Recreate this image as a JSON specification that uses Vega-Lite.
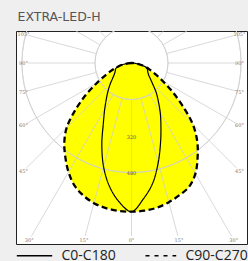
{
  "$schema": "https://vega.github.io/schema/vega-lite/v6.json",
  "width": 231,
  "height": 213,
  "autosize": {"type": "none"},
  "padding": {"left": 16, "top": 31, "right": 1, "bottom": 17},
  "background": "#efefef",
  "view": {"stroke": "#222222", "strokeWidth": 1, "fill": "white"},
  "title": {"text": "EXTRA-LED-H", "anchor": "start", "frame": "group", "font": "DejaVu Sans", "fontSize": 12.5, "fontWeight": "normal", "color": "#555555", "offset": 11, "baseline": "alphabetic", "dx": 1.5, "dy": 13.5},
  "datasets": {
    "curves": [
      {"series": "C0-C180", "a": -90, "I": 0}, {"series": "C0-C180", "a": -85, "I": 15}, {"series": "C0-C180", "a": -80, "I": 38}, {"series": "C0-C180", "a": -75, "I": 62}, {"series": "C0-C180", "a": -70, "I": 74}, {"series": "C0-C180", "a": -65, "I": 78}, {"series": "C0-C180", "a": -60, "I": 84}, {"series": "C0-C180", "a": -55, "I": 94}, {"series": "C0-C180", "a": -50, "I": 110}, {"series": "C0-C180", "a": -45, "I": 133}, {"series": "C0-C180", "a": -40, "I": 160}, {"series": "C0-C180", "a": -35, "I": 192}, {"series": "C0-C180", "a": -30, "I": 235}, {"series": "C0-C180", "a": -25, "I": 292}, {"series": "C0-C180", "a": -20, "I": 380}, {"series": "C0-C180", "a": -15, "I": 472}, {"series": "C0-C180", "a": -10, "I": 551}, {"series": "C0-C180", "a": -5, "I": 612}, {"series": "C0-C180", "a": 0, "I": 652}, {"series": "C0-C180", "a": 5, "I": 598}, {"series": "C0-C180", "a": 10, "I": 535}, {"series": "C0-C180", "a": 15, "I": 452}, {"series": "C0-C180", "a": 20, "I": 372}, {"series": "C0-C180", "a": 25, "I": 305}, {"series": "C0-C180", "a": 30, "I": 252}, {"series": "C0-C180", "a": 35, "I": 205}, {"series": "C0-C180", "a": 40, "I": 168}, {"series": "C0-C180", "a": 45, "I": 132}, {"series": "C0-C180", "a": 50, "I": 108}, {"series": "C0-C180", "a": 55, "I": 92}, {"series": "C0-C180", "a": 60, "I": 83}, {"series": "C0-C180", "a": 65, "I": 78}, {"series": "C0-C180", "a": 70, "I": 73}, {"series": "C0-C180", "a": 75, "I": 60}, {"series": "C0-C180", "a": 80, "I": 37}, {"series": "C0-C180", "a": 85, "I": 15}, {"series": "C0-C180", "a": 90, "I": 0},
      {"series": "C90-C270", "a": -90, "I": 0}, {"series": "C90-C270", "a": -85, "I": 15}, {"series": "C90-C270", "a": -80, "I": 38}, {"series": "C90-C270", "a": -75, "I": 62}, {"series": "C90-C270", "a": -70, "I": 90}, {"series": "C90-C270", "a": -65, "I": 125}, {"series": "C90-C270", "a": -60, "I": 175}, {"series": "C90-C270", "a": -55, "I": 245}, {"series": "C90-C270", "a": -50, "I": 322}, {"series": "C90-C270", "a": -45, "I": 402}, {"series": "C90-C270", "a": -40, "I": 458}, {"series": "C90-C270", "a": -35, "I": 505}, {"series": "C90-C270", "a": -30, "I": 552}, {"series": "C90-C270", "a": -25, "I": 592}, {"series": "C90-C270", "a": -20, "I": 618}, {"series": "C90-C270", "a": -15, "I": 636}, {"series": "C90-C270", "a": -10, "I": 646}, {"series": "C90-C270", "a": -5, "I": 651}, {"series": "C90-C270", "a": 0, "I": 652}, {"series": "C90-C270", "a": 5, "I": 650}, {"series": "C90-C270", "a": 10, "I": 644}, {"series": "C90-C270", "a": 15, "I": 632}, {"series": "C90-C270", "a": 20, "I": 616}, {"series": "C90-C270", "a": 25, "I": 598}, {"series": "C90-C270", "a": 30, "I": 560}, {"series": "C90-C270", "a": 35, "I": 505}, {"series": "C90-C270", "a": 40, "I": 448}, {"series": "C90-C270", "a": 45, "I": 380}, {"series": "C90-C270", "a": 50, "I": 292}, {"series": "C90-C270", "a": 55, "I": 218}, {"series": "C90-C270", "a": 60, "I": 158}, {"series": "C90-C270", "a": 65, "I": 115}, {"series": "C90-C270", "a": 70, "I": 85}, {"series": "C90-C270", "a": 75, "I": 60}, {"series": "C90-C270", "a": 80, "I": 37}, {"series": "C90-C270", "a": 85, "I": 15}, {"series": "C90-C270", "a": 90, "I": 0}
    ],
    "spokes": [
      {"a": -135}, {"a": -120}, {"a": -105}, {"a": -90}, {"a": -75}, {"a": -60}, {"a": -45}, {"a": -30}, {"a": -15}, {"a": 0}, {"a": 15}, {"a": 30}, {"a": 45}, {"a": 60}, {"a": 75}, {"a": 90}, {"a": 105}, {"a": 120}, {"a": 135}
    ],
    "rings": [
      {"r": 160, "labelled": false}, {"r": 320, "labelled": true}, {"r": 480, "labelled": true}, {"r": 640, "labelled": false}, {"r": 800, "labelled": false}
    ]
  },
  "layer": [
    {
      "data": {"name": "curves"},
      "transform": [
        {"filter": "datum.series == 'C90-C270'"},
        {"calculate": "datum.I*sin(datum.a*PI/180)", "as": "x"},
        {"calculate": "-datum.I*cos(datum.a*PI/180)", "as": "y"}
      ],
      "mark": {"type": "line", "fill": "#ffff00", "strokeOpacity": 0, "interpolate": "catmull-rom"},
      "encoding": {
        "x": {"field": "x", "type": "quantitative", "scale": {"domain": [-506, 506], "nice": false, "zero": false}, "axis": null},
        "y": {"field": "y", "type": "quantitative", "scale": {"domain": [-793.5, 140.3], "nice": false, "zero": false}, "axis": null},
        "order": {"field": "a", "type": "quantitative"}
      }
    },
    {
      "data": {"name": "rings"},
      "mark": {"type": "arc", "filled": false, "stroke": "#cfcfcf", "strokeWidth": 0.8, "theta": 0, "theta2": 6.2832, "clip": true},
      "encoding": {
        "x": {"datum": 0, "type": "quantitative", "scale": {"domain": [-506, 506], "nice": false, "zero": false}, "axis": null},
        "y": {"datum": 0, "type": "quantitative", "scale": {"domain": [-793.5, 140.3], "nice": false, "zero": false}, "axis": null},
        "radius": {"field": "r", "type": "quantitative", "scale": {"type": "linear", "domain": [0, 506], "range": [0, 115.5], "zero": true}}
      }
    },
    {
      "data": {"name": "spokes"},
      "transform": [
        {"calculate": "sin(datum.a*PI/180)", "as": "s"},
        {"calculate": "cos(datum.a*PI/180)", "as": "c"},
        {"calculate": "min(abs(datum.s) > 0.000001 ? 473/abs(datum.s) : 1e9, datum.c > 0.000001 ? 776/datum.c : 1e9, datum.c < -0.000001 ? 140.3/(-datum.c) : 1e9)", "as": "tl"},
        {"calculate": "abs(datum.a) <= 105 ? datum.tl - 18 : datum.tl", "as": "te"},
        {"calculate": "160*datum.s", "as": "x"},
        {"calculate": "-160*datum.c", "as": "y"},
        {"calculate": "datum.te*datum.s", "as": "x2"},
        {"calculate": "-datum.te*datum.c", "as": "y2"}
      ],
      "mark": {"type": "rule", "stroke": "#cfcfcf", "strokeWidth": 0.8, "clip": true},
      "encoding": {
        "x": {"field": "x", "type": "quantitative", "scale": {"domain": [-506, 506], "nice": false, "zero": false}, "axis": null},
        "y": {"field": "y", "type": "quantitative", "scale": {"domain": [-793.5, 140.3], "nice": false, "zero": false}, "axis": null},
        "x2": {"field": "x2"},
        "y2": {"field": "y2"}
      }
    },
    {
      "data": {"name": "spokes"},
      "transform": [
        {"filter": "abs(datum.a) <= 105"},
        {"calculate": "sin(datum.a*PI/180)", "as": "s"},
        {"calculate": "cos(datum.a*PI/180)", "as": "c"},
        {"calculate": "min(abs(datum.s) > 0.000001 ? 473/abs(datum.s) : 1e9, datum.c > 0.000001 ? 776/datum.c : 1e9, datum.c < -0.000001 ? 140.3/(-datum.c) : 1e9)", "as": "tl"},
        {"calculate": "datum.tl*datum.s", "as": "x"},
        {"calculate": "-datum.tl*datum.c", "as": "y"},
        {"calculate": "abs(datum.a) + '°'", "as": "label"}
      ],
      "mark": {"type": "text", "font": "DejaVu Serif", "fontSize": 5, "color": "#777777", "align": "center", "baseline": "middle"},
      "encoding": {
        "x": {"field": "x", "type": "quantitative", "scale": {"domain": [-506, 506], "nice": false, "zero": false}, "axis": null},
        "y": {"field": "y", "type": "quantitative", "scale": {"domain": [-793.5, 140.3], "nice": false, "zero": false}, "axis": null},
        "text": {"field": "label"}
      }
    },
    {
      "data": {"name": "rings"},
      "transform": [
        {"filter": "datum.labelled"},
        {"calculate": "-datum.r", "as": "y"}
      ],
      "mark": {"type": "text", "font": "DejaVu Serif", "fontSize": 5, "color": "#555555", "align": "center", "baseline": "middle", "dy": 1},
      "encoding": {
        "x": {"datum": 0, "type": "quantitative", "scale": {"domain": [-506, 506], "nice": false, "zero": false}, "axis": null},
        "y": {"field": "y", "type": "quantitative", "scale": {"domain": [-793.5, 140.3], "nice": false, "zero": false}, "axis": null},
        "text": {"field": "r"}
      }
    },
    {
      "data": {"name": "curves"},
      "transform": [
        {"filter": "datum.series == 'C0-C180'"},
        {"calculate": "datum.I*sin(datum.a*PI/180)", "as": "x"},
        {"calculate": "-datum.I*cos(datum.a*PI/180)", "as": "y"}
      ],
      "mark": {"type": "line", "color": "black", "strokeWidth": 1.2, "interpolate": "catmull-rom"},
      "encoding": {
        "x": {"field": "x", "type": "quantitative", "scale": {"domain": [-506, 506], "nice": false, "zero": false}, "axis": null},
        "y": {"field": "y", "type": "quantitative", "scale": {"domain": [-793.5, 140.3], "nice": false, "zero": false}, "axis": null},
        "order": {"field": "a", "type": "quantitative"},
        "strokeDash": {
          "field": "series", "type": "nominal",
          "scale": {"domain": ["C0-C180", "C90-C270"], "range": [[1, 0], [4, 5]]},
          "legend": {
            "orient": "bottom", "direction": "horizontal", "title": null,
            "symbolType": "stroke", "symbolSize": 1253, "symbolStrokeWidth": 1.3, "symbolStrokeColor": "black",
            "labelFont": "Open Sans", "labelFontSize": 14, "labelColor": "#222222", "labelOffset": 8.5,
            "columnPadding": 22, "offset": -7, "padding": 0, "labelLimit": 0,
            "encode": {"symbols": {"update": {"strokeDashOffset": {"value": 4.3}}}}
          }
        }
      }
    },
    {
      "data": {"name": "curves"},
      "transform": [
        {"filter": "datum.series == 'C90-C270'"},
        {"calculate": "datum.I*sin(datum.a*PI/180)", "as": "x"},
        {"calculate": "-datum.I*cos(datum.a*PI/180)", "as": "y"}
      ],
      "mark": {"type": "line", "color": "black", "strokeWidth": 2.3, "strokeDash": [6, 3.5], "interpolate": "catmull-rom"},
      "encoding": {
        "x": {"field": "x", "type": "quantitative", "scale": {"domain": [-506, 506], "nice": false, "zero": false}, "axis": null},
        "y": {"field": "y", "type": "quantitative", "scale": {"domain": [-793.5, 140.3], "nice": false, "zero": false}, "axis": null},
        "order": {"field": "a", "type": "quantitative"}
      }
    }
  ]
}
